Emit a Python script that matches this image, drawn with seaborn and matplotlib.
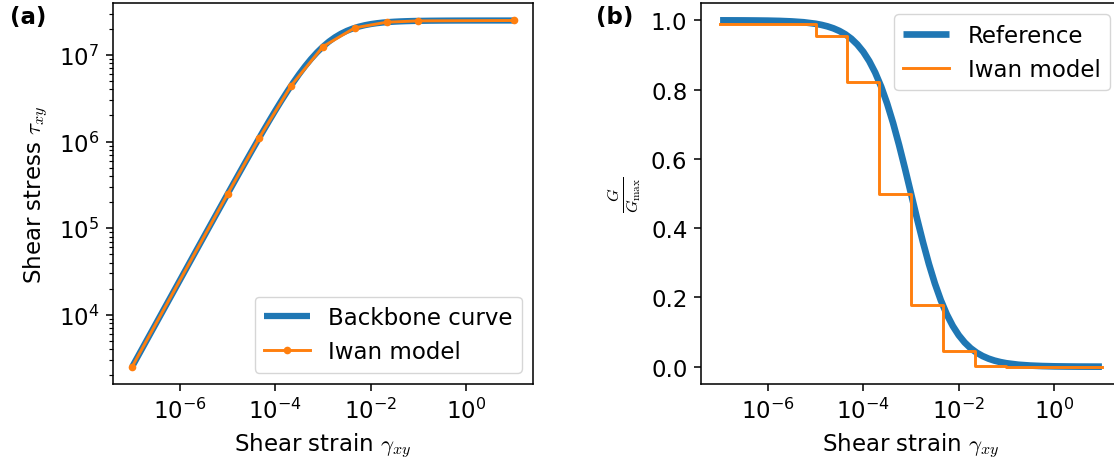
import matplotlib
matplotlib.use("Agg")
import matplotlib.pyplot as plt
import matplotlib.ticker as mticker
import seaborn as sns
import pandas as pd

# ---------------- data ----------------
# Backbone / reference curve (strain, stress, G/Gmax)
strain_ref = [1e-7, 1.778e-7, 3.162e-7, 5.623e-7,
              1e-6, 1.778e-6, 3.162e-6, 5.623e-6,
              1e-5, 1.3335e-5, 1.778e-5, 2.3714e-5, 3.162e-5, 4.217e-5, 5.623e-5, 7.4989e-5,
              1e-4, 1.3335e-4, 1.778e-4, 2.3714e-4, 3.162e-4, 4.217e-4, 5.623e-4, 7.4989e-4,
              1e-3, 1.3335e-3, 1.778e-3, 2.3714e-3, 3.162e-3, 4.217e-3, 5.623e-3, 7.4989e-3,
              1e-2, 1.3335e-2, 1.778e-2, 2.3714e-2, 3.162e-2, 4.217e-2, 5.623e-2, 7.4989e-2,
              1e-1, 1.778e-1, 3.162e-1, 5.623e-1,
              1e0, 1.778e0, 3.162e0, 5.623e0, 1e1]
stress_ref = [2500, 4445, 7903, 14050,
              24975, 44370, 78808, 139775,
              247525, 328988, 436735, 579117, 766270, 1011592, 1330900, 1743948,
              2272700, 2941501, 3773900, 4792101, 6005900, 7415418, 8998000, 10713416,
              1.25e7, 1.4286e7, 1.6001e7, 1.7585e7, 1.8993e7, 2.0208e7, 2.1225e7, 2.2058e7,
              2.2727e7, 2.3256e7, 2.3669e7, 2.3988e7, 2.4234e7, 2.4421e7, 2.4563e7, 2.4671e7,
              2.4752e7, 2.4860e7, 2.4921e7, 2.4956e7,
              2.4975e7, 2.4986e7, 2.4992e7, 2.4996e7, 2.4998e7]
ggmax_ref = [0.9999, 0.9998, 0.9997, 0.9994,
             0.9990, 0.9982, 0.9968, 0.9944,
             0.9901, 0.9868, 0.9825, 0.9768, 0.9693, 0.9595, 0.9468, 0.9302,
             0.9091, 0.8823, 0.8491, 0.8083, 0.7597, 0.7034, 0.6401, 0.5715,
             0.5000, 0.4285, 0.3600, 0.2966, 0.2403, 0.1917, 0.1510, 0.1177,
             0.0909, 0.0698, 0.0532, 0.0405, 0.0307, 0.0232, 0.0175, 0.0132,
             0.0099, 0.0056, 0.0032, 0.0018,
             0.0010, 0.0006, 0.0003, 0.0002, 0.0001]

# Iwan model (discrete springs)
strain_iwan = [1e-7, 1e-5, 4.64e-5, 2.15e-4, 1e-3, 4.64e-3, 2.15e-2, 1e-1, 1e1]
stress_iwan = [2500, 2.475e5, 1.109e6, 4.424e6, 1.25e7, 2.057e7, 2.389e7, 2.475e7, 2.5e7]
ggmax_iwan = [0.990, 0.956, 0.823, 0.500, 0.177, 0.044, 0.002, 0.0001, 0.0001]

xticks = [1e-6, 1e-4, 1e-2, 1e0]

# ---------------- style ----------------
sns.set_style("ticks")
plt.rcParams.update({
    "font.family": ["DejaVu Sans"],
    "font.size": 16.5,
    "mathtext.fontset": "cm",
    "text.color": "black",
    "axes.labelcolor": "black",
    "axes.edgecolor": "black",
    "axes.linewidth": 1.12,
    "xtick.color": "black",
    "ytick.color": "black",
    "xtick.major.size": 4.9,
    "ytick.major.size": 4.9,
    "xtick.minor.size": 2.8,
    "ytick.minor.size": 2.8,
    "xtick.major.width": 1.12,
    "ytick.major.width": 1.12,
    "xtick.minor.width": 0.84,
    "ytick.minor.width": 0.84,
    "xtick.major.pad": 4.9,
    "ytick.major.pad": 4.9,
    "axes.labelpad": 5.6,
    "lines.solid_capstyle": "projecting",
    "legend.fontsize": 16.5,
    "legend.frameon": True,
    "legend.framealpha": 0.8,
    "legend.edgecolor": "0.8",
    "legend.fancybox": True,
})

blue = "#1f77b4"
orange = "#ff7f0e"

W, H = 1114, 464
fig = plt.figure(figsize=(W / 100, H / 100), dpi=100)
axw = 420 / W
axh = 381 / H
ax1 = fig.add_axes([113 / W, (H - 385) / H, axw, axh])
ax2 = fig.add_axes([701 / W, (H - 385) / H, axw, axh])

df_ref = pd.DataFrame({"strain": strain_ref, "stress": stress_ref, "ggmax": ggmax_ref})
df_iwan = pd.DataFrame({"strain": strain_iwan, "stress": stress_iwan, "ggmax": ggmax_iwan})

# ---- panel (a) ----
ax1.set_xscale("log")
ax1.set_yscale("log")
sns.lineplot(data=df_ref, x="strain", y="stress", ax=ax1, color=blue, lw=4.5,
             solid_capstyle="butt", label="Backbone curve")
sns.lineplot(data=df_iwan, x="strain", y="stress", ax=ax1, color=orange, lw=2.1,
             marker="o", markersize=5.5, markeredgecolor=orange, markeredgewidth=0,
             label="Iwan model")
ax1.set_xlabel(r"Shear strain $\gamma_{xy}$")
ax1.set_ylabel(r"Shear stress $\tau_{xy}$")
ax1.legend(loc="lower right")

# ---- panel (b) ----
ax2.set_xscale("log")
sns.lineplot(data=df_ref, x="strain", y="ggmax", ax=ax2, color=blue, lw=4.8,
             solid_capstyle="butt", label="Reference")
sns.lineplot(data=df_iwan, x="strain", y="ggmax", ax=ax2, color=orange, lw=2.1,
             drawstyle="steps-post", label="Iwan model")
ax2.set_xlabel(r"Shear strain $\gamma_{xy}$")
ax2.set_ylabel(r"$\frac{G}{G_{\max}}$")
ax2.legend(loc="upper right")

for ax in (ax1, ax2):
    for s in ax.spines.values():
        s.set_visible(True)
    ax.set_xticks(xticks)
    ax.xaxis.set_minor_locator(mticker.NullLocator())
    ax.set_xlim(10 ** -7.4, 10 ** 1.4)
ax2.set_ylim(-0.05, 1.05)
ax2.set_yticks([0.0, 0.2, 0.4, 0.6, 0.8, 1.0])
ax1.set_ylim(10 ** 3.2, 10 ** 7.6)

fig.text(10 / W, 1 - 6 / H, "(a)", fontweight="bold", fontsize=16.5, va="top", ha="left")
fig.text(596 / W, 1 - 6 / H, "(b)", fontweight="bold", fontsize=16.5, va="top", ha="left")

fig.savefig("out.png", dpi=100)
